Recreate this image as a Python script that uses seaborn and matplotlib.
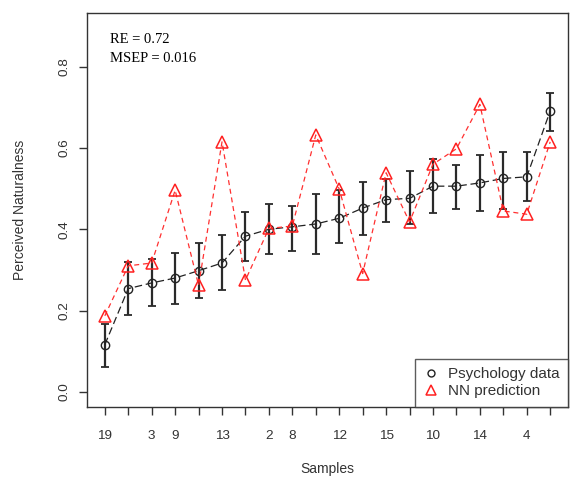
import matplotlib
matplotlib.use("Agg")
import matplotlib.pyplot as plt
from matplotlib.lines import Line2D
import seaborn as sns
import pandas as pd
import numpy as np

# ---- data ----
positions = list(range(1, 21))
tick_labels = ["19", "", "3", "9", "", "13", "", "2", "8", "", "12", "",
               "15", "", "10", "", "14", "", "4", ""]
psych = [0.116, 0.254, 0.268, 0.280, 0.298, 0.317, 0.383, 0.400, 0.406, 0.413,
         0.427, 0.452, 0.473, 0.476, 0.506, 0.506, 0.514, 0.525, 0.529, 0.691]
psych_upper = [0.168, 0.320, 0.328, 0.342, 0.367, 0.385, 0.442, 0.462, 0.457, 0.486,
               0.496, 0.517, 0.523, 0.543, 0.572, 0.558, 0.583, 0.591, 0.591, 0.736]
psych_lower = [0.061, 0.190, 0.211, 0.217, 0.230, 0.250, 0.322, 0.340, 0.346, 0.340,
               0.367, 0.387, 0.418, 0.414, 0.439, 0.451, 0.445, 0.451, 0.470, 0.642]
nn_pred = [0.187, 0.310, 0.317, 0.496, 0.262, 0.615, 0.275, 0.402, 0.408, 0.632,
           0.499, 0.291, 0.539, 0.418, 0.560, 0.598, 0.707, 0.445, 0.437, 0.615]
y_ticks = [0.0, 0.2, 0.4, 0.6, 0.8]
stats_lines = ["RE = 0.72", "MSEP = 0.016"]

sns.set_style("white")
plt.rcParams["font.family"] = ["Liberation Sans", "DejaVu Sans"]

W, H = 570, 484
fig = plt.figure(figsize=(W / 100, H / 100), dpi=100)
L, R, T, B = 87, 568, 13, 406.5
ax = fig.add_axes([L / W, 1 - B / H, (R - L) / W, (B - T) / H])

df = pd.DataFrame({"pos": positions, "psych": psych, "nn": nn_pred})
p = np.array(psych)
err = [p - np.array(psych_lower), np.array(psych_upper) - p]

ax.errorbar(positions, psych, yerr=err, fmt="none", ecolor="#2a2a2a",
            elinewidth=1.6, capsize=2.6, capthick=1.3, zorder=2)
sns.lineplot(data=df, x="pos", y="psych", ax=ax, color="#222222",
             linestyle=(0, (6, 3)), linewidth=0.9, marker="o", markersize=6,
             markerfacecolor="none", markeredgecolor="#222222",
             markeredgewidth=1.0, legend=False, zorder=3)
sns.lineplot(data=df, x="pos", y="nn", ax=ax, color="#ff3030",
             linestyle=(0, (4, 3)), linewidth=0.9, marker="^", markersize=8,
             markerfacecolor="none", markeredgecolor="#ff2020",
             markeredgewidth=1.1, legend=False, zorder=4)

ax.set_xlim(0.24, 20.76)
ax.set_ylim(-0.036, 0.932)
ax.set_xticks(positions)
ax.set_xticklabels(tick_labels)
ax.set_yticks(y_ticks)
ax.set_yticklabels([f"{v:.1f}" for v in y_ticks], rotation=90, va="center")
ax.tick_params(axis="both", direction="out", length=6, width=1.0,
               color="#333333", labelsize=9.7, bottom=True, left=True,
               labelcolor="#333333")
ax.tick_params(axis="x", pad=11)
ax.tick_params(axis="y", pad=6)
for s in ax.spines.values():
    s.set_color("#333333")
    s.set_linewidth(1.0)

ax.set_xlabel("Samples", fontsize=10, color="#333333")
ax.set_ylabel("Perceived Naturalness", fontsize=10, color="#333333")
ax.xaxis.set_label_coords(0.5, -0.142)
ax.yaxis.set_label_coords(-0.125, 0.5)

ax.text(0.048, 0.933, stats_lines[0], transform=ax.transAxes, va="center",
        ha="left", fontsize=10.5, family="Liberation Serif", color="black")
ax.text(0.048, 0.885, stats_lines[1], transform=ax.transAxes, va="center",
        ha="left", fontsize=10.5, family="Liberation Serif", color="black")

handles = [
    Line2D([], [], linestyle="none", marker="o", markersize=5,
           markerfacecolor="none", markeredgecolor="#222222", markeredgewidth=1.0),
    Line2D([], [], linestyle="none", marker="^", markersize=7,
           markerfacecolor="none", markeredgecolor="#ff2020", markeredgewidth=1.1),
]
leg = ax.legend(handles, ["Psychology data", "NN prediction"], loc="lower right",
                borderaxespad=0, frameon=True, fancybox=False, fontsize=11,
                handlelength=1.0, handletextpad=0.6, labelspacing=0.2,
                borderpad=0.55)
leg.get_frame().set_edgecolor("#333333")
leg.get_frame().set_linewidth(1.0)
for t in leg.get_texts():
    t.set_color("#333333")

fig.savefig("out.png", dpi=100)
